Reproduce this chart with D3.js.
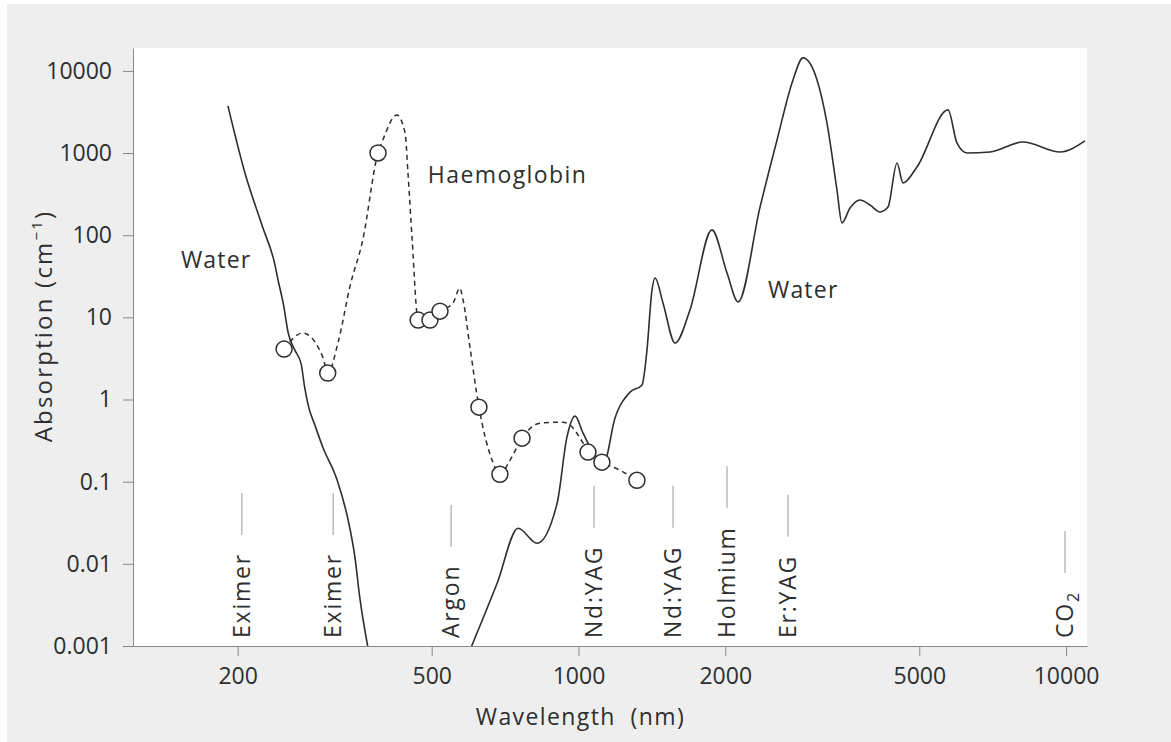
<!DOCTYPE html>
<html lang="en">
<head>
<meta charset="UTF-8" />
<title>Absorption spectra</title>
<script src="https://d3js.org/d3.v7.min.js"></script>
<style>
  body { margin: 0; background: #fff; font-family: "Open Sans", sans-serif; }
  svg text { fill: #2e2e2e; }
  .water { fill: none; stroke: #2e2e2e; stroke-width: 1.6; }
  .hb { fill: none; stroke: #2e2e2e; stroke-width: 1.5; stroke-dasharray: 5 4; }
  .dot { fill: #fff; stroke: #2e2e2e; stroke-width: 1.5; }
  .axis path, .axis line { stroke: #888; }
  .axis text { font-family: "Open Sans", sans-serif; font-size: 23px; fill: #2e2e2e; }
  .lbl { font-size: 23px; letter-spacing: 1.8px; }
  .laser line { stroke: #aaa; stroke-width: 1.2; }
</style>
</head>
<body>
<svg id="chart" width="1171" height="742"></svg>
<script>
// water absorption, UV side (nm, cm^-1)
const waterUV_nm  = [191, 207, 225, 238, 242, 248, 254, 262, 270, 274, 279, 288, 299, 320, 337, 348, 356, 370];
const waterUV_abs = [3750, 572, 126, 46, 28.5, 14.9, 6.4, 4.0, 2.7, 1.5, 0.855, 0.488, 0.263, 0.104, 0.034, 0.012, 0.0039, 0.00096];

// water absorption, visible / IR side
const waterIR_nm  = [599, 681, 752, 822, 904, 947, 984, 1022, 1081, 1128, 1188, 1276, 1350, 1382, 1415, 1436, 1491, 1578, 1693, 1878, 2017, 2125,
                     2357, 2554, 2754, 2887, 3085, 3233, 3390, 3470, 3605, 3780, 3963, 4154, 4313, 4501, 4630, 4946, 5727, 5974, 6263, 6982, 8161, 9719, 10935];
const waterIR_abs = [0.00089, 0.0058, 0.0271, 0.0178, 0.0547, 0.348, 0.628, 0.39, 0.21, 0.173, 0.593, 1.23, 1.5, 4.0, 21.5, 30.1, 14.9, 4.86, 12.3, 116, 34.7, 15.4,
                     220, 1445, 7770, 14400, 7770, 2327, 355, 141, 214, 268, 233, 192, 220, 757, 432, 677, 3350, 1327, 1003, 1031, 1366, 1031, 1404];

// haemoglobin, dashed curve
const hb_nm  = [249, 272, 299, 306, 322, 340, 361, 388, 397, 424, 441, 447, 456, 469, 496, 520, 553, 571, 580, 599, 625, 665, 690, 724, 766, 834, 929, 961, 1022, 1046, 1117, 1217, 1318];
const hb_abs = [4.11, 6.44, 3.28, 2.10, 5.2, 24, 87, 1003, 1445, 2900, 1757, 572, 87, 9.27, 9.27, 11.9, 14.9, 22.7, 16.2, 4.35, 0.808, 0.183, 0.123, 0.183, 0.339, 0.516, 0.53, 0.488, 0.294, 0.229, 0.173, 0.138, 0.104];

// haemoglobin measured points (circles)
const hbPts_nm  = [249, 306, 388, 469, 496, 520, 625, 690, 766, 1046, 1117, 1318];
const hbPts_abs = [4.11, 2.10, 1003, 9.27, 9.27, 11.9, 0.808, 0.123, 0.339, 0.229, 0.173, 0.104];

// laser lines
const laserNames = ["Eximer", "Eximer", "Argon", "Nd:YAG", "Nd:YAG", "Holmium", "Er:YAG", "CO2"];
const laserNm    = [204, 314, 548, 1076, 1563, 2017, 2690, 9950];

const xTicks = [200, 500, 1000, 2000, 5000, 10000];
const yTicks = [0.001, 0.01, 0.1, 1, 10, 100, 1000, 10000];

const margin = { top: 48, right: 84, bottom: 96, left: 133 },
  W = 1171, H = 742,
  width = W - margin.left - margin.right,
  height = H - margin.top - margin.bottom;

const svg = d3.select("#chart");

// grey frame + white plot area
svg.append("rect").attr("x", 7).attr("y", 4).attr("width", W - 7).attr("height", H - 4).attr("fill", "#eeeeee");
const g = svg.append("g").attr("transform", "translate(" + margin.left + "," + margin.top + ")");
g.append("rect").attr("width", width).attr("height", height).attr("fill", "#fff");

g.append("clipPath").attr("id", "clip")
  .append("rect").attr("width", width).attr("height", height);

const x = d3.scaleLog().domain([122, 11040]).range([0, width]);
const y = d3.scaleLog().domain([0.001, 19000]).range([height, 0]);

// axes
g.append("g").attr("class", "axis")
  .attr("transform", "translate(0," + height + ")")
  .call(d3.axisBottom(x).tickValues(xTicks).tickFormat(d3.format("d")).tickSize(10).tickSizeOuter(0).tickPadding(12));

g.append("g").attr("class", "axis")
  .call(d3.axisLeft(y).tickValues(yTicks).tickFormat(d => d >= 1 ? d3.format("d")(d) : String(d)).tickSize(10).tickSizeOuter(0).tickPadding(11));

// laser markers
const lasers = laserNames.map((n, i) => ({ name: n, nm: laserNm[i] }));
const lg = g.selectAll(".laser").data(lasers).join("g").attr("class", "laser");
const labelBase = 638 - margin.top;
lg.each(function (d) {
  const sel = d3.select(this);
  const t = sel.append("text")
    .attr("class", "lbl")
    .attr("transform", "translate(" + x(d.nm) + "," + labelBase + ") rotate(-90)")
    .attr("dy", "0.36em");
  if (d.name === "CO2") {
    t.append("tspan").text("CO");
    t.append("tspan").attr("font-size", "16px").attr("dy", "0.35em").text("2");
  } else {
    t.text(d.name);
  }
  const len = t.node().getComputedTextLength();
  const top = labelBase - len - 18;
  sel.append("line")
    .attr("x1", x(d.nm)).attr("x2", x(d.nm))
    .attr("y1", top).attr("y2", top - 42);
});

// curves
const line = d3.line().x(d => x(d[0])).y(d => y(d[1])).curve(d3.curveMonotoneX);
const plot = g.append("g").attr("clip-path", "url(#clip)");

plot.append("path").attr("class", "water")
  .datum(waterUV_nm.map((v, i) => [v, waterUV_abs[i]])).attr("d", line);
plot.append("path").attr("class", "water")
  .datum(waterIR_nm.map((v, i) => [v, waterIR_abs[i]])).attr("d", line);
plot.append("path").attr("class", "hb")
  .datum(hb_nm.map((v, i) => [v, hb_abs[i]])).attr("d", line);

plot.selectAll(".dot").data(hbPts_nm.map((v, i) => [v, hbPts_abs[i]])).join("circle")
  .attr("class", "dot").attr("r", 8)
  .attr("cx", d => x(d[0])).attr("cy", d => y(d[1]));

// series labels
g.append("text").attr("class", "lbl").attr("x", x(153)).attr("y", y(40)).style("letter-spacing", "1.2px").text("Water");
g.append("text").attr("class", "lbl").attr("x", x(491)).attr("y", y(432)).style("letter-spacing", "1.4px").text("Haemoglobin");
g.append("text").attr("class", "lbl").attr("x", x(2447)).attr("y", y(17.2)).style("letter-spacing", "1.2px").text("Water");

// axis titles
svg.append("text").attr("class", "lbl")
  .attr("x", margin.left + x(1000) + 2).attr("y", 725).attr("text-anchor", "middle")
  .style("letter-spacing", "1.4px")
  .text("Wavelength\u00a0 (nm)");

const yt = svg.append("text").attr("class", "lbl")
  .attr("transform", "translate(52,326) rotate(-90)").attr("text-anchor", "middle")
  .style("font-size", "24px").style("letter-spacing", "2.2px");
yt.append("tspan").text("Absorption (cm");
yt.append("tspan").attr("font-size", "15px").attr("dy", "-0.7em").text("\u22121");
yt.append("tspan").attr("dy", "0.45em").text(")");
</script>
</body>
</html>
